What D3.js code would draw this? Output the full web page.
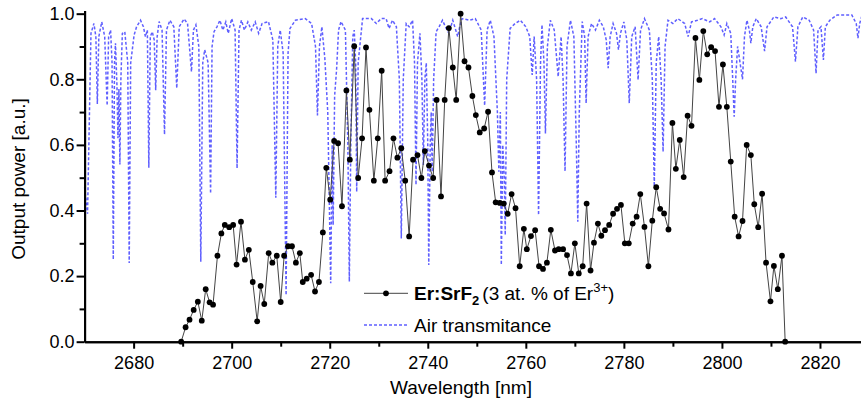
<!DOCTYPE html>
<html>
<head>
<meta charset="utf-8">
<script src="https://cdn.jsdelivr.net/npm/d3@7"></script>
<style>
	body { margin: 0; background: #fff; }
	svg { display: block; font-family: Arial, "Liberation Sans", sans-serif; }
</style>
</head>
<body>
<svg id="chart" width="861" height="401"></svg>
<script>
// laser output, Er:SrF2
let wavelength = [
	2689.7, 2690.6, 2691.4, 2692.25, 2693.1, 2693.9, 2694.7, 2695.5, 2696.2, 2697.1,
	2697.9, 2698.6, 2699.5, 2700.3, 2701.0, 2701.9, 2702.7, 2703.5, 2704.3, 2705.2,
	2705.9, 2706.65, 2707.55, 2708.3, 2709.2, 2710.0, 2710.7, 2711.5, 2712.3, 2713.1,
	2713.9, 2714.5, 2715.3, 2716.2, 2717.0, 2717.8, 2718.6, 2719.3, 2720.1, 2720.9,
	2721.7, 2722.5, 2723.4, 2724.1, 2725.0, 2725.8, 2726.6, 2727.4, 2728.1, 2729.0,
	2729.8, 2730.6, 2731.3, 2732.2, 2733.0, 2733.8, 2734.6, 2735.4, 2736.2, 2737.0,
	2737.9, 2738.7, 2739.4, 2740.25, 2741.1, 2741.8, 2742.7, 2743.45, 2744.3, 2745.1,
	2745.8, 2746.7, 2747.5, 2748.3, 2749.1, 2749.8, 2750.6, 2751.5, 2752.3, 2753.1,
	2753.85, 2754.7, 2755.5, 2756.3, 2757.1, 2757.9, 2758.75, 2759.6, 2760.2, 2761.05,
	2761.9, 2762.7, 2763.5, 2764.3, 2765.1, 2765.95, 2766.7, 2767.6, 2768.4, 2769.2,
	2770.0, 2770.8, 2771.6, 2772.4, 2773.2, 2773.9, 2774.7, 2775.4, 2776.15, 2777.0,
	2777.8, 2778.6, 2779.4, 2780.2, 2781.0, 2781.8, 2782.6, 2783.35, 2784.2, 2785.0,
	2785.8, 2786.6, 2787.4, 2788.2, 2789.1, 2789.9, 2790.6, 2791.4, 2792.2, 2793.0,
	2793.8, 2794.6, 2795.4, 2796.2, 2797.0, 2797.8, 2798.6, 2799.4, 2800.2, 2801.0,
	2801.8, 2802.6, 2803.4, 2804.2, 2805.05, 2805.9, 2806.6, 2807.4, 2808.2, 2809.0,
	2809.9, 2810.6, 2811.4, 2812.25, 2812.9
];
let power = [
	0.0, 0.044, 0.067, 0.097, 0.122, 0.064, 0.16, 0.12, 0.113, 0.262,
	0.33, 0.356, 0.349, 0.356, 0.235, 0.366, 0.25, 0.28, 0.182, 0.062,
	0.17, 0.115, 0.27, 0.241, 0.262, 0.121, 0.262, 0.291, 0.291, 0.241,
	0.27, 0.182, 0.192, 0.204, 0.153, 0.182, 0.333, 0.53, 0.433, 0.612,
	0.605, 0.413, 0.766, 0.555, 0.901, 0.499, 0.62, 0.897, 0.707, 0.491,
	0.62, 0.826, 0.491, 0.52, 0.62, 0.561, 0.59, 0.491, 0.321, 0.555,
	0.569, 0.499, 0.581, 0.537, 0.499, 0.737, 0.443, 0.737, 0.956, 0.836,
	0.737, 1.0, 0.855, 0.836, 0.749, 0.691, 0.638, 0.65, 0.701, 0.516,
	0.425, 0.423, 0.421, 0.39, 0.45, 0.407, 0.23, 0.344, 0.282, 0.322,
	0.34, 0.23, 0.222, 0.241, 0.341, 0.278, 0.282, 0.282, 0.264, 0.208,
	0.3, 0.208, 0.23, 0.421, 0.217, 0.302, 0.36, 0.323, 0.34, 0.356,
	0.39, 0.405, 0.417, 0.3, 0.3, 0.36, 0.381, 0.45, 0.35, 0.23,
	0.369, 0.471, 0.405, 0.391, 0.342, 0.667, 0.527, 0.615, 0.502, 0.689,
	0.658, 0.926, 0.798, 0.947, 0.876, 0.898, 0.886, 0.716, 0.845, 0.716,
	0.549, 0.381, 0.321, 0.368, 0.6, 0.569, 0.419, 0.349, 0.451, 0.241,
	0.123, 0.231, 0.16, 0.262, 0.0
];

// air transmittance
let airWavelength = [
	2670.0, 2670.6, 2671.3, 2671.9, 2672.3, 2672.6, 2672.9, 2673.5, 2674.1, 2674.6,
	2674.9, 2675.3, 2675.6, 2675.85, 2676.1, 2676.3, 2676.6, 2676.8, 2677.0, 2677.2,
	2677.4, 2677.7, 2678.2, 2678.8, 2679.1, 2679.4, 2680.1, 2680.6, 2681.4, 2682.0,
	2682.4, 2682.8, 2683.1, 2683.4, 2683.8, 2684.2, 2684.5, 2684.8, 2685.2, 2685.8,
	2686.3, 2686.7, 2687.4, 2688.2, 2688.8, 2689.3, 2690.3, 2691.0, 2691.8, 2692.2,
	2692.7, 2693.3, 2693.7, 2694.1, 2694.5, 2695.2, 2695.7, 2696.0, 2696.4, 2697.0,
	2697.6, 2698.2, 2698.8, 2699.3, 2700.0, 2700.7, 2701.1, 2701.5, 2702.0, 2702.6,
	2703.3, 2704.0, 2704.8, 2705.5, 2706.2, 2707.5, 2708.4, 2709.0, 2709.4, 2709.9,
	2710.5, 2711.1, 2711.5, 2711.9, 2713.0, 2715.0, 2716.3, 2717.1, 2717.5, 2717.9,
	2718.4, 2719.0, 2719.6, 2720.2, 2720.5, 2720.7, 2721.0, 2721.4, 2721.8, 2722.3,
	2723.2, 2723.7, 2724.0, 2724.3, 2724.7, 2725.0, 2725.3, 2725.5, 2725.8, 2726.7,
	2728.5, 2729.5, 2730.5, 2731.5, 2732.1, 2732.8, 2733.6, 2734.2, 2734.6, 2735.0,
	2735.6, 2736.2, 2736.9, 2737.3, 2737.6, 2737.9, 2738.4, 2738.8, 2739.1, 2739.4,
	2739.7, 2740.0, 2740.2, 2740.5, 2740.7, 2740.9, 2741.2, 2741.7, 2742.3, 2743.0,
	2743.6, 2744.3, 2745.1, 2745.7, 2746.1, 2746.5, 2747.0, 2748.5, 2749.7, 2750.9,
	2751.6, 2752.1, 2752.75, 2753.5, 2754.2, 2754.5, 2754.8, 2755.0, 2755.3, 2755.6,
	2755.8, 2756.1, 2756.8, 2757.8, 2758.9, 2760.0, 2760.8, 2761.3, 2761.7, 2762.2,
	2762.6, 2763.0, 2763.3, 2763.7, 2764.0, 2764.4, 2765.0, 2765.8, 2766.6, 2767.2,
	2767.6, 2768.0, 2768.4, 2769.1, 2769.8, 2770.3, 2770.6, 2770.9, 2771.5, 2772.0,
	2772.3, 2772.7, 2773.4, 2774.2, 2775.0, 2775.8, 2776.4, 2776.8, 2777.2, 2777.8,
	2778.5, 2778.9, 2779.3, 2780.0, 2780.6, 2781.1, 2781.6, 2782.3, 2782.9, 2783.4,
	2784.2, 2785.2, 2785.8, 2786.2, 2786.6, 2787.1, 2787.6, 2788.0, 2788.4, 2789.0,
	2790.0, 2791.0, 2792.4, 2793.1, 2793.8, 2795.0, 2796.0, 2797.5, 2798.5, 2799.8,
	2800.45, 2801.0, 2801.8, 2802.2, 2802.5, 2802.8, 2803.2, 2803.7, 2804.2, 2804.6,
	2805.1, 2805.6, 2805.9, 2806.3, 2807.0, 2808.0, 2808.7, 2809.2, 2810.6, 2812.0,
	2813.0, 2814.4, 2815.0, 2815.5, 2816.5, 2817.8, 2818.7, 2819.2, 2819.6, 2820.2,
	2820.7, 2821.1, 2822.0, 2823.5, 2826.5, 2827.4, 2827.75, 2828.1, 2828.6, 2830.0
];
let airTransmittance = [
	0.47, 0.39, 0.94, 0.97, 0.93, 0.725, 0.93, 0.975, 0.93, 0.72,
	0.93, 0.95, 0.85, 0.25, 0.85, 0.91, 0.78, 0.62, 0.77, 0.54,
	0.8, 0.94, 0.945, 0.85, 0.24, 0.85, 0.935, 0.96, 0.98, 0.96,
	0.93, 0.95, 0.53, 0.93, 0.945, 0.92, 0.767, 0.93, 0.976, 0.95,
	0.632, 0.95, 0.98, 0.96, 0.773, 0.96, 0.984, 0.97, 0.823, 0.95,
	0.966, 0.9, 0.244, 0.85, 0.89, 0.85, 0.452, 0.9, 0.945, 0.96,
	0.98, 0.95, 0.975, 0.94, 0.985, 0.95, 0.529, 0.95, 0.98, 0.95,
	0.975, 0.95, 0.975, 0.94, 0.97, 0.976, 0.92, 0.439, 0.9, 0.95,
	0.88, 0.142, 0.88, 0.955, 0.98, 0.985, 0.97, 0.9, 0.69, 0.9,
	0.96, 0.864, 0.7, 0.178, 0.6, 0.356, 0.75, 0.83, 0.95, 0.976,
	0.95, 0.6, 0.183, 0.6, 0.93, 0.95, 0.85, 0.457, 0.85, 0.985,
	0.985, 0.97, 0.985, 0.985, 0.955, 0.98, 0.96, 0.8, 0.315, 0.8,
	0.97, 0.96, 0.98, 0.85, 0.478, 0.85, 0.94, 0.8, 0.539, 0.8,
	0.85, 0.6, 0.234, 0.6, 0.7, 0.518, 0.8, 0.945, 0.96, 0.98,
	0.96, 0.94, 0.98, 0.95, 0.93, 0.96, 0.985, 0.98, 0.985, 0.95,
	0.72, 0.95, 0.98, 0.93, 0.7, 0.518, 0.7, 0.234, 0.6, 0.5,
	0.325, 0.8, 0.955, 0.97, 0.98, 0.96, 0.93, 0.813, 0.93, 0.8,
	0.386, 0.85, 0.966, 0.85, 0.635, 0.9, 0.98, 0.95, 0.808, 0.93,
	0.8, 0.52, 0.9, 0.98, 0.93, 0.6, 0.366, 0.7, 0.976, 0.93,
	0.727, 0.93, 0.97, 0.95, 0.98, 0.96, 0.92, 0.834, 0.93, 0.97,
	0.94, 0.89, 0.94, 0.975, 0.92, 0.727, 0.93, 0.96, 0.798, 0.95,
	0.985, 0.95, 0.8, 0.473, 0.85, 0.93, 0.8, 0.579, 0.9, 0.98,
	0.97, 0.985, 0.97, 0.93, 0.975, 0.98, 0.985, 0.975, 0.985, 0.96,
	0.935, 0.97, 0.94, 0.8, 0.686, 0.8, 0.9, 0.85, 0.8, 0.93,
	0.98, 0.95, 0.91, 0.96, 0.985, 0.96, 0.886, 0.96, 0.99, 0.985,
	0.99, 0.96, 0.854, 0.96, 0.99, 0.98, 0.95, 0.818, 0.95, 0.96,
	0.859, 0.96, 0.98, 0.996, 0.996, 0.97, 0.925, 0.97, 0.996, 0.996
];

let xMajorTicks = [2680, 2700, 2720, 2740, 2760, 2780, 2800, 2820];
let xMinorTicks = [2690, 2710, 2730, 2750, 2770, 2790, 2810, 2830];
let yMajorTicks = [0.0, 0.2, 0.4, 0.6, 0.8, 1.0];
let yMinorTicks = [0.1, 0.3, 0.5, 0.7, 0.9];

let svg = d3.select("#chart");

let x = d3.scaleLinear().domain([2670, 2830]).range([84.6, 869]);
let y = d3.scaleLinear().domain([0, 1.01]).range([341.7, 10.4]);

// transmittance, dashed blue
let airLine = d3.line()
	.x((d, i) => x(airWavelength[i]))
	.y((d, i) => y(airTransmittance[i]));
svg.append("path")
	.datum(airWavelength)
	.attr("d", airLine)
	.attr("fill", "none")
	.attr("stroke", "#5f5fff")
	.attr("stroke-width", 1.5)
	.attr("stroke-dasharray", "3,2");

// output power, line + dots
let powerLine = d3.line()
	.x((d, i) => x(wavelength[i]))
	.y((d, i) => y(power[i]));
svg.append("path")
	.datum(wavelength)
	.attr("d", powerLine)
	.attr("fill", "none")
	.attr("stroke", "#444")
	.attr("stroke-width", 1);
svg.append("g")
	.selectAll("circle")
	.data(wavelength)
	.join("circle")
	.attr("cx", (d) => x(d))
	.attr("cy", (d, i) => y(power[i]))
	.attr("r", 2.9)
	.attr("fill", "#000");

// axes
function styleAxis(g) {
	g.selectAll("path, line").attr("stroke", "#000").attr("stroke-width", 2);
	g.selectAll("text").attr("fill", "#000").attr("font-size", 18).attr("font-family", "Arial, 'Liberation Sans', sans-serif");
}

svg.append("g")
	.attr("transform", "translate(0,341.7)")
	.call(d3.axisBottom(x).tickValues(xMinorTicks).tickSize(5).tickSizeOuter(0).tickFormat(""))
	.call(styleAxis);
svg.append("g")
	.attr("transform", "translate(0,341.7)")
	.call(d3.axisBottom(x).tickValues(xMajorTicks).tickSize(7).tickSizeOuter(0).tickPadding(8).tickFormat(d3.format("d")))
	.call(styleAxis);

svg.append("g")
	.attr("transform", "translate(84.6,0)")
	.call(d3.axisLeft(y).tickValues(yMinorTicks).tickSize(5).tickSizeOuter(0).tickFormat(""))
	.call(styleAxis);
svg.append("g")
	.attr("transform", "translate(84.6,0)")
	.call(d3.axisLeft(y).tickValues(yMajorTicks).tickSize(8).tickSizeOuter(0).tickPadding(2).tickFormat(d3.format(".1f")))
	.call(styleAxis);

// titles
svg.append("text")
	.attr("x", 461)
	.attr("y", 394)
	.attr("text-anchor", "middle")
	.attr("font-size", 19)
	.text("Wavelength [nm]");
svg.append("text")
	.attr("transform", "translate(24.5,179) rotate(-90)")
	.attr("text-anchor", "middle")
	.attr("font-size", 19)
	.text("Output power [a.u.]");

// legend
let legend = svg.append("g");
legend.append("line")
	.attr("x1", 364).attr("x2", 408).attr("y1", 293.3).attr("y2", 293.3)
	.attr("stroke", "#444").attr("stroke-width", 1);
legend.append("circle")
	.attr("cx", 386).attr("cy", 293.3).attr("r", 2.9).attr("fill", "#000");
let label = legend.append("text")
	.attr("x", 414).attr("y", 300).attr("font-size", 19);
label.append("tspan").attr("font-weight", "bold").text("Er:SrF");
label.append("tspan").attr("font-weight", "bold").attr("font-size", 13).attr("dy", 5).text("2");
label.append("tspan").attr("dy", -5).attr("dx", 3).text("(3 at. % of Er");
label.append("tspan").attr("font-size", 13).attr("dy", -8).text("3+");
label.append("tspan").attr("dy", 8).text(")");

legend.append("line")
	.attr("x1", 364).attr("x2", 408).attr("y1", 325).attr("y2", 325)
	.attr("stroke", "#5f5fff")
	.attr("stroke-width", 1.5).attr("stroke-dasharray", "3,2");
legend.append("text")
	.attr("x", 414).attr("y", 331.7).attr("font-size", 19)
	.text("Air transmitance");
</script>
</body>
</html>
